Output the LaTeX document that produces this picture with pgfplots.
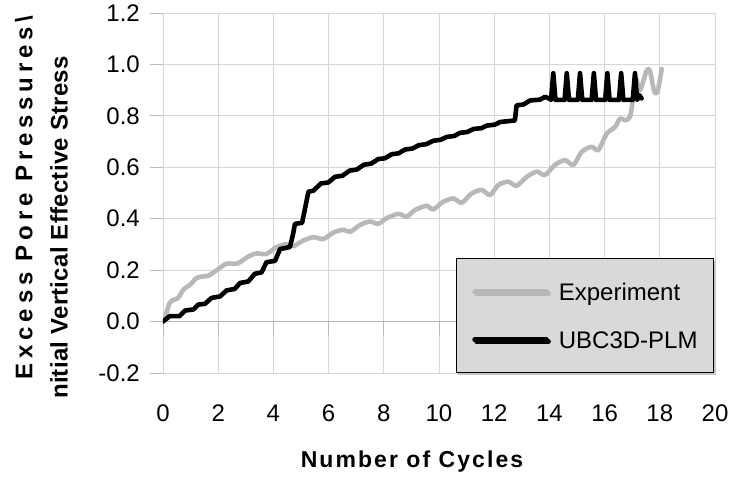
\documentclass[border=0pt]{standalone}
\usepackage{fontspec}
\setmainfont{Liberation Sans}
\newfontfamily\lblA{Liberation Sans Bold}[LetterSpace=20]
\newfontfamily\lblB{Liberation Sans Bold}[LetterSpace=1.2]
\newfontfamily\lblX{Liberation Sans Bold}[LetterSpace=9]
\usepackage{pgfplots}
\usepackage{pgfplotstable}
\pgfplotsset{compat=1.18}
\usetikzlibrary{shadows}
\definecolor{gridc}{RGB}{214,214,214}
\definecolor{axisc}{RGB}{185,185,185}
\definecolor{expc}{RGB}{184,184,184}
\definecolor{legc}{RGB}{217,217,217}

\pgfplotstableread{
x y
0 0
0.06 0.01
0.24 0.072
0.4 0.085
0.55 0.092
0.74 0.124
0.98 0.143
1.2 0.168
1.4 0.175
1.64 0.178
2.0 0.204
2.3 0.225
2.7 0.226
3.09 0.253
3.39 0.265
3.75 0.263
4.12 0.29
4.48 0.301
4.72 0.293
5.08 0.315
5.45 0.328
5.81 0.321
6.17 0.346
6.53 0.357
6.78 0.349
7.14 0.376
7.5 0.389
7.8 0.380
8.1 0.402
8.53 0.419
8.83 0.408
9.13 0.434
9.55 0.450
9.79 0.436
10.14 0.465
10.52 0.479
10.82 0.462
11.18 0.498
11.55 0.512
11.85 0.492
12.15 0.531
12.51 0.544
12.81 0.528
13.18 0.563
13.54 0.583
13.84 0.570
14.2 0.609
14.57 0.628
14.87 0.609
15.17 0.660
15.53 0.680
15.77 0.667
16.08 0.731
16.38 0.757
16.56 0.790
16.74 0.783
16.92 0.796
17.04 0.873
17.14 0.944
17.28 0.899
17.52 0.975
17.64 0.975
17.8 0.895
17.92 0.895
18.07 0.982
}\experiment

\pgfplotstableread{
x y
0 0
0.24 0.021
0.6 0.021
0.8 0.043
1.1 0.047
1.28 0.066
1.52 0.069
1.76 0.092
2.07 0.098
2.3 0.121
2.6 0.127
2.79 0.150
3.09 0.156
3.33 0.186
3.57 0.191
3.75 0.231
4.06 0.236
4.24 0.282
4.6 0.290
4.72 0.344
4.78 0.380
5.04 0.384
5.27 0.505
5.45 0.509
5.72 0.537
5.99 0.541
6.23 0.563
6.5 0.567
6.76 0.587
7.02 0.591
7.28 0.610
7.54 0.614
7.80 0.632
8.04 0.635
8.29 0.651
8.53 0.654
8.77 0.669
9.04 0.673
9.27 0.686
9.55 0.690
9.79 0.703
10.06 0.707
10.28 0.718
10.56 0.722
10.76 0.734
11.02 0.737
11.25 0.749
11.53 0.752
11.73 0.762
12.03 0.766
12.21 0.776
12.75 0.782
12.81 0.841
13.06 0.844
13.3 0.860
13.66 0.863
13.84 0.874
14.02 0.866
14.06 0.862
14.14 0.966
14.22 0.862
14.55 0.862
14.63 0.966
14.71 0.862
15.03 0.862
15.11 0.966
15.19 0.862
15.53 0.862
15.61 0.966
15.69 0.862
16.02 0.862
16.10 0.966
16.18 0.862
16.52 0.862
16.60 0.966
16.68 0.862
17.02 0.862
17.10 0.966
17.18 0.862
17.26 0.880
17.34 0.868
}\ubc

\begin{document}
\begin{tikzpicture}
\path[use as bounding box] (-163pt,-109pt) rectangle (571pt,373pt);
\begin{axis}[
  scale only axis, width=552pt, height=360pt,
  at={(0pt,0pt)}, anchor=south west,
  xmin=0, xmax=20, ymin=-0.2, ymax=1.2,
  xtick={0,2,4,6,8,10,12,14,16,18,20},
  ytick={-0.2,0,0.2,0.4,0.6,0.8,1.0,1.2},
  grid=major, grid style={draw=gridc, line width=0.9pt},
  axis line style={draw=gridc, line width=0.9pt},
  ytick align=outside, xtick align=inside,
  major tick length=13pt,
  xtick style={draw=none},
  ytick style={draw=axisc, line width=0.9pt},
  ytick pos=left, xtick pos=bottom,
  scaled y ticks=false,
  /pgf/number format/assume math mode=true,
  tick label style={font=\fontsize{24}{28}\selectfont},
  yticklabel style={/pgf/number format/fixed, /pgf/number format/fixed zerofill,
     /pgf/number format/precision=1,
     anchor=east, inner sep=0pt, xshift=-10pt},
  xticklabel style={anchor=center, yshift=-40pt},
  legend style={at={(rel axis cs:1,0)}, anchor=south east, xshift=-1pt,
     fill=legc, draw=black, line width=0.9pt,
     inner xsep=16pt, inner ysep=21.5pt, row sep=25pt,
     font=\fontsize{24}{28}\selectfont,
     nodes={inner xsep=0pt, inner ysep=0pt, text height=20pt, text depth=3pt},
     /tikz/every odd column/.style={column sep=10pt},
     cells={anchor=west},
     general shadow={fill=gray!45, shadow xshift=2pt, shadow yshift=-2pt}},
  legend image code/.code={\draw[#1] (0pt,0pt) -- (72pt,0pt);},
]
\draw[draw=axisc, line width=0.9pt] (axis cs:0,0) -- (axis cs:20,0);
\pgfplotsinvokeforeach{0,2,4,6,8,10,12,14,16,18,20}{\draw[draw=axisc, line width=0.9pt] (axis cs:#1,0) -- ++(0pt,-13pt);}
\addplot[draw=expc, line width=4.6pt, smooth, tension=0.45, line join=round, line cap=round] table[x=x,y=y] {\experiment};
\addlegendentry{Experiment}
\addplot[draw=black, line width=4.6pt, line join=round, line cap=round] table[x=x,y=y] {\ubc};
\addlegendentry{UBC3D-PLM}
\end{axis}
\node[rotate=90, font=\fontsize{24}{28}\lblA, inner sep=0pt] at (-139pt,175.5pt) {Excess Pore Pressures\textbackslash};
\node[rotate=90, font=\fontsize{24}{28}\lblB, inner sep=0pt] at (-104pt,145.5pt) {nitial Vertical Effective Stress};
\node[font=\fontsize{23}{27}\lblX, inner sep=0pt] at (249pt,-89pt) {Number of Cycles};
\end{tikzpicture}
\end{document}
